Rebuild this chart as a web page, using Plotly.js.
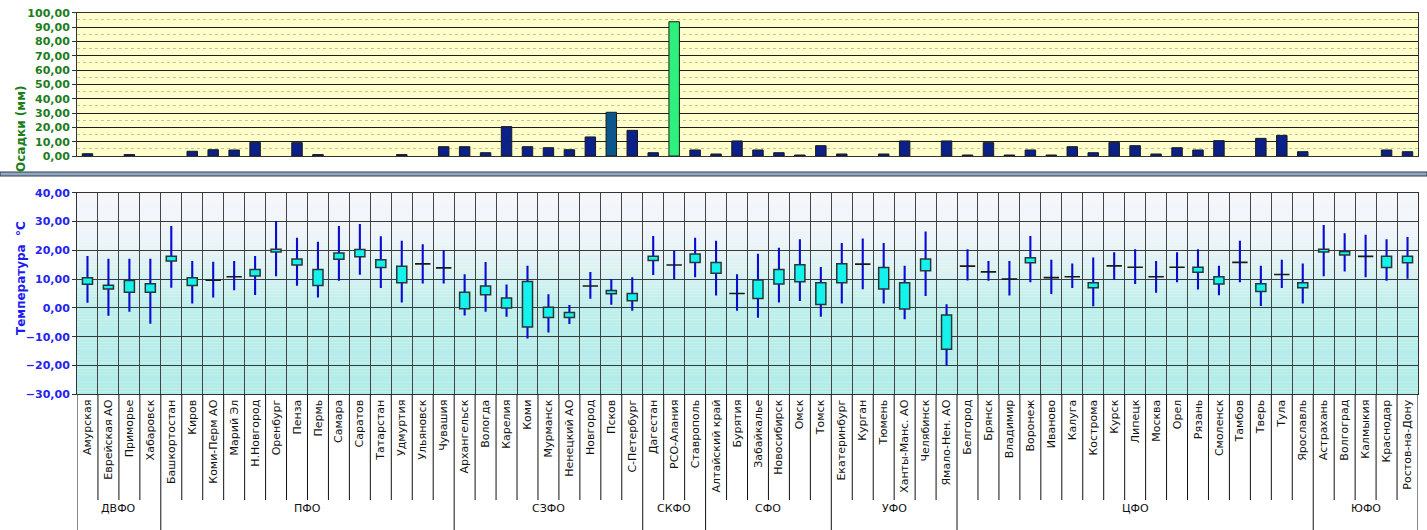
<!DOCTYPE html>
<html><head><meta charset="utf-8">
<script src="https://cdn.plot.ly/plotly-3.0.1.min.js"></script>
<style>html,body{margin:0;padding:0;background:#fff;} #chart{width:1427px;height:530px;}</style>
</head><body><div id="chart"></div>
<script>
// ---------- DATA ----------
const categories = [
 'Амурская','Еврейская АО','Приморье','Хабаровск',
 'Башкортостан','Киров','Коми-Перм АО','Марий Эл','Н.Новгород','Оренбург','Пенза','Пермь','Самара','Саратов','Татарстан','Удмуртия','Ульяновск','Чувашия',
 'Архангельск','Вологда','Карелия','Коми','Мурманск','Ненецкий АО','Новгород','Псков','С-Петербург',
 'Дагестан','РСО-Алания','Ставрополь',
 'Алтайский край','Бурятия','Забайкалье','Новосибирск','Омск','Томск',
 'Екатеринбург','Курган','Тюмень','Ханты-Манс. АО','Челябинск','Ямало-Нен. АО',
 'Белгород','Брянск','Владимир','Воронеж','Иваново','Калуга','Кострома','Курск','Липецк','Москва','Орел','Рязань','Смоленск','Тамбов','Тверь','Тула','Ярославль',
 'Астрахань','Волгоград','Калмыкия','Краснодар','Ростов-на-Дону'
];
const groups = ['ДВФО','ПФО','СЗФО','СКФО','СФО','УФО','ЦФО','ЮФО'];
const groupSizes = [4,14,9,3,6,6,17,5];

const precip = [
 1.6,0,1.0,0,
 0,3.3,4.4,4.2,9.5,0,9.3,1.0,0,0,0,1.0,0,6.5,
 6.5,2.3,20.5,6.5,5.8,4.4,13.3,30.5,17.9,
 2.3,93.7,4.2,
 1.4,10.5,4.2,2.3,0.7,7.2,
 1.4,0,1.4,10.5,0,10.5,
 0.7,9.3,0.7,4.2,0.7,6.5,2.3,9.5,7.2,1.4,5.8,4.2,10.7,0,12.3,14.4,3.0,
 0,0,0,4.2,3.0
];
const tHigh = [
 18.0,17.1,17.1,17.1,
 28.4,16.3,16.0,16.3,18.0,30.2,24.4,23.0,28.4,29.1,24.9,23.3,22.1,20.1,
 11.7,15.9,8.1,14.6,4.7,1.0,12.5,10.0,10.6,
 25.0,19.9,24.4,
 23.3,11.7,18.8,20.9,23.8,14.2,
 22.5,24.1,22.5,14.6,26.5,1.3,
 20.4,16.3,16.3,25.0,16.7,15.4,17.5,19.3,20.4,16.3,19.3,20.4,14.6,23.3,14.6,16.7,15.4,
 28.8,25.9,25.4,23.8,24.6
];
const tLow = [
 1.8,-2.7,-1.3,-5.5,
 7.0,1.5,3.6,6.1,4.5,11.0,7.7,3.6,9.4,11.5,6.9,1.9,8.5,8.5,
 -2.6,-1.3,-3.1,-10.6,-8.5,-5.6,3.2,1.1,-1.0,
 11.4,10.0,10.6,
 4.3,-1.0,-3.4,1.9,2.4,-3.1,
 1.5,6.5,1.5,-3.9,4.1,-20.1,
 9.5,9.4,4.3,8.9,4.8,6.9,0.6,9.8,8.3,5.3,8.9,6.4,4.4,8.9,0.7,6.9,1.5,
 11.0,12.6,10.6,9.4,10.1
];
const boxUpper = [
 10.5,7.9,9.5,8.4,
 17.9,10.5,9.6,10.8,13.3,20.4,17.0,13.3,19.1,20.3,16.7,14.5,15.3,13.9,
 5.4,7.6,3.4,9.2,0.2,-1.6,7.6,6.0,5.0,
 17.9,14.9,18.7,
 15.8,5.0,9.7,13.3,15.0,8.7,
 15.3,15.2,14.0,8.7,17.0,-2.5,
 14.5,12.5,10.0,17.4,10.5,10.8,8.7,14.6,14.1,10.8,14.1,14.1,10.8,15.8,8.4,11.6,8.7,
 20.4,19.6,17.9,17.9,17.9
];
const boxLower = [
 8.2,6.6,5.4,5.4,
 16.3,7.8,9.6,10.8,11.1,19.4,14.9,7.8,16.9,17.8,14.0,8.7,15.3,13.9,
 -0.3,4.6,0.0,-6.6,-3.3,-3.3,7.6,4.9,2.5,
 16.5,14.9,15.8,
 12.0,5.0,3.3,8.3,9.1,1.2,
 8.7,15.2,6.6,-0.4,12.9,-14.4,
 14.5,12.5,10.0,15.7,10.5,10.8,7.0,14.6,14.1,10.8,14.1,12.4,8.3,15.8,5.7,11.6,7.0,
 19.4,18.4,17.9,14.0,15.7
];

// ---------- GEOMETRY ----------
const W = 1427, H = 530;
const fx = p => p / W;
const fy = p => 1 - p / H;
const xDom = [fx(77), fx(1418)];
const n = categories.length;
const idx = categories.map((_, i) => i);
const xr = [-0.5, n - 0.5];

const specialColor = {'Псков': '#0b568c', 'РСО-Алания': '#2ef07c'};
const barColors = categories.map(c => specialColor[c] || '#0b2088');

const precipIdx = idx.filter(i => precip[i] > 0);
const boxIdx = idx.filter(i => boxUpper[i] !== boxLower[i]);
const flatIdx = idx.filter(i => boxUpper[i] === boxLower[i]);

const traces = [
 {type:'bar', x: precipIdx, y: precipIdx.map(i => precip[i]), xaxis:'x', yaxis:'y', width:0.5,
  marker:{color: precipIdx.map(i => barColors[i]), line:{color:'#1a1a1a', width:1}}, hoverinfo:'skip'},
 {type:'bar', x: idx, base: tLow, y: idx.map(i => tHigh[i] - tLow[i]), xaxis:'x2', yaxis:'y2', width:0.1,
  marker:{color:'#0a0ad2', line:{width:0}}, hoverinfo:'skip'},
 {type:'bar', x: boxIdx, base: boxIdx.map(i => boxLower[i]),
  y: boxIdx.map(i => boxUpper[i] - boxLower[i]),
  xaxis:'x2', yaxis:'y2', width:0.48,
  marker:{color:'#14f2ee', line:{color:'#2b3535', width:1.5}}, hoverinfo:'skip'},
 {type:'scatter', mode:'markers', x: flatIdx, y: flatIdx.map(i => boxLower[i]), xaxis:'x2', yaxis:'y2',
  marker:{symbol:'line-ew', size:11, line:{width:1.6, color:'#1a1a1a'}}, hoverinfo:'skip'}
];

// ---------- SHAPES ----------
const shapes = [];
const stops = [[40,[245,246,255]],[25,[238,244,252]],[15,[222,242,246]],[5,[200,240,242]],[0,[188,238,238]],[-30,[176,236,234]]];
function colAt(v){
  for (let k=0;k<stops.length-1;k++){
    const a=stops[k], b=stops[k+1];
    if (v<=a[0] && v>=b[0]){
      const t=(a[0]-v)/(a[0]-b[0]);
      const c=a[1].map((q,j)=>Math.round(q+(b[1][j]-q)*t));
      return 'rgb('+c.join(',')+')';
    }
  }
  return 'rgb(176,236,234)';
}
for (let v=40; v>-30; v-=1){
  shapes.push({type:'rect', xref:'x2 domain', yref:'y2', x0:0, x1:1, y0:v-1, y1:v,
    fillcolor: colAt(v-0.5), line:{width:0}, layer:'below'});
}
shapes.push({type:'rect', xref:'paper', yref:'paper', x0:0, x1:1, y0:fy(176), y1:fy(172),
  fillcolor:'#93a8c0', line:{color:'#2c3c52', width:1}});
const groupEnds = [];
let acc = 0;
groupSizes.forEach(s => { acc += s; groupEnds.push(acc); });
for (let k=0; k<=n; k++){
  const isGroup = k===0 || groupEnds.includes(k);
  shapes.push({type:'line', xref:'x2', yref:'paper', x0:k-0.5, x1:k-0.5,
    y0: fy(394.3), y1: isGroup ? 0 : fy(500), line:{color:'#111', width:1}});
}

const annotations = [];
let start = 0;
groups.forEach((g, gi) => {
  annotations.push({xref:'x2', yref:'paper', x: start + (groupSizes[gi]-1)/2, y: fy(517),
    text: g, showarrow:false, font:{family:'DejaVu Sans', size:11, color:'#111'}});
  start += groupSizes[gi];
});
annotations.push({xref:'paper', yref:'paper', x: fx(12), y: fy(84), text:'Осадки (мм)', textangle:-90,
  showarrow:false, font:{family:'DejaVu Sans', size:12, color:'#1b7d1b', weight:'bold'}});
annotations.push({xref:'paper', yref:'paper', x: fx(12), y: fy(278), text:'Температура  °С', textangle:-90,
  showarrow:false, font:{family:'DejaVu Sans', size:12, color:'#1c1cf0', weight:'bold'}});

const layout = {
  width: W, height: H,
  margin:{l:0, r:0, t:0, b:0},
  paper_bgcolor:'#ffffff', plot_bgcolor:'#ffffcc',
  separators:', ',
  barmode:'overlay',
  showlegend:false,
  xaxis:{domain:xDom, range:xr, anchor:'y', showticklabels:false, ticks:'', showgrid:false, zeroline:false,
    showline:true, mirror:true, linecolor:'#333', linewidth:1, fixedrange:true},
  yaxis:{domain:[fy(156), fy(12.7)], range:[0,100], dtick:10, tickformat:'.2f', anchor:'x',
    showgrid:true, gridcolor:'#1e1e1e', gridwidth:1, zeroline:false,
    minor:{dtick:5, showgrid:true, gridcolor:'#c9c391', griddash:'dot', gridwidth:1},
    showline:true, mirror:true, linecolor:'#333', ticks:'outside', ticklen:4, tickcolor:'#333',
    tickfont:{family:'DejaVu Sans', size:11, color:'#1b7d1b', weight:'bold'}},
  xaxis2:{domain:xDom, range:xr, anchor:'y2', tickvals: idx, ticktext: categories, tickangle:-90,
    ticks:'', showgrid:false, zeroline:false,
    minor:{tick0:-0.5, dtick:1, showgrid:true, gridcolor:'#444', gridwidth:1},
    showline:true, mirror:true, linecolor:'#333',
    tickfont:{family:'DejaVu Sans', size:11, color:'#111'}},
  yaxis2:{domain:[fy(394.3), fy(192.7)], range:[-30,40], dtick:10, tickformat:'.2f', anchor:'x2',
    showgrid:true, gridcolor:'#3a3a3a', gridwidth:1, zeroline:false,
    showline:true, mirror:true, linecolor:'#333', ticks:'outside', ticklen:4, tickcolor:'#333',
    tickfont:{family:'DejaVu Sans', size:11, color:'#2424f0', weight:'bold'}},
  shapes: shapes,
  annotations: annotations
};

Plotly.newPlot('chart', traces, layout, {staticPlot:true, displayModeBar:false});
</script>
</body></html>
